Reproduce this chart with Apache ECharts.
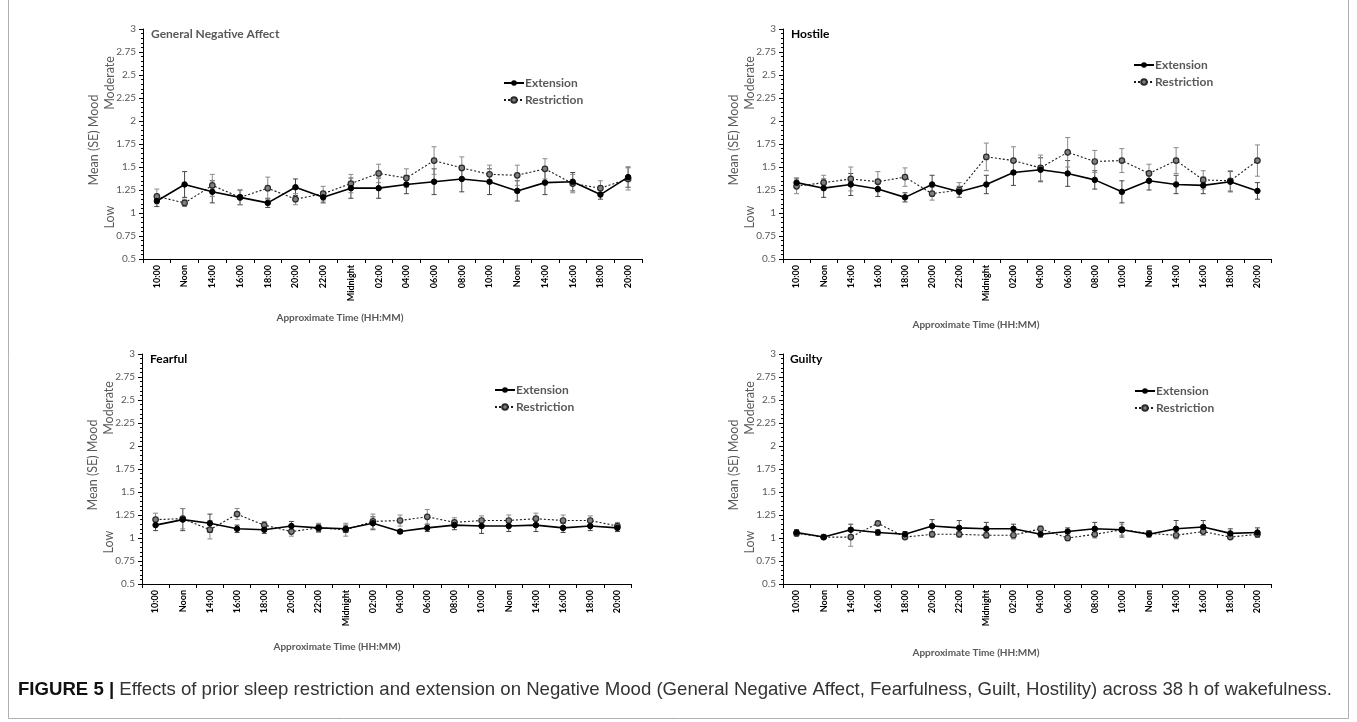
<!DOCTYPE html>
<html>
<head>
<meta charset="utf-8">
<script src="https://cdn.jsdelivr.net/npm/echarts@6/dist/echarts.min.js"></script>
<style>
html,body{margin:0;padding:0;background:#fff;}
#chart{width:1357px;height:722px;}
</style>
</head>
<body>
<div id="chart"></div>
<script>
// ---- data ----
const timeLabels = ['10:00','Noon','14:00','16:00','18:00','20:00','22:00','Midnight','02:00','04:00','06:00','08:00','10:00','Noon','14:00','16:00','18:00','20:00'];
const yTicks = [0.5, 0.75, 1, 1.25, 1.5, 1.75, 2, 2.25, 2.5, 2.75, 3];
const seriesNames = ['Extension', 'Restriction'];
const panelTitles = ['General Negative Affect', 'Hostile', 'Fearful', 'Guilty'];

const gnaExt    = [1.13,1.31,1.23,1.17,1.11,1.28,1.17,1.27,1.27,1.31,1.34,1.37,1.34,1.24,1.33,1.34,1.20,1.39];
const gnaExtSE  = [0.06,0.14,0.12,0.08,0.05,0.09,0.06,0.11,0.11,0.10,0.14,0.14,0.14,0.11,0.13,0.10,0.05,0.11];
const gnaRest   = [1.18,1.11,1.30,1.17,1.27,1.15,1.21,1.32,1.43,1.38,1.57,1.49,1.42,1.41,1.48,1.32,1.27,1.37];
const gnaRestSE = [0.08,0.04,0.12,0.08,0.12,0.06,0.08,0.10,0.10,0.10,0.15,0.12,0.10,0.11,0.11,0.10,0.08,0.12];

const hosExt    = [1.33,1.27,1.31,1.26,1.17,1.31,1.23,1.31,1.44,1.47,1.43,1.36,1.23,1.35,1.31,1.30,1.34,1.24];
const hosExtSE  = [0.05,0.10,0.12,0.08,0.05,0.10,0.06,0.10,0.14,0.13,0.14,0.10,0.12,0.10,0.10,0.09,0.11,0.09];
const hosRest   = [1.29,1.33,1.37,1.34,1.39,1.21,1.25,1.61,1.57,1.49,1.66,1.56,1.57,1.43,1.57,1.36,1.35,1.57];
const hosRestSE = [0.08,0.08,0.13,0.11,0.10,0.07,0.08,0.15,0.15,0.14,0.16,0.12,0.13,0.10,0.14,0.10,0.11,0.17];

const feaExt    = [1.14,1.20,1.16,1.10,1.09,1.13,1.11,1.10,1.16,1.07,1.11,1.14,1.13,1.13,1.14,1.11,1.13,1.11];
const feaExtSE  = [0.06,0.12,0.10,0.04,0.04,0.05,0.04,0.04,0.07,0.02,0.04,0.05,0.08,0.06,0.07,0.05,0.05,0.04];
const feaRest   = [1.20,1.21,1.09,1.26,1.14,1.07,1.11,1.09,1.18,1.19,1.23,1.17,1.19,1.19,1.21,1.19,1.19,1.13];
const feaRestSE = [0.07,0.11,0.10,0.06,0.04,0.05,0.05,0.07,0.08,0.06,0.08,0.05,0.05,0.06,0.06,0.06,0.05,0.04];

const guiExt    = [1.06,1.01,1.09,1.06,1.04,1.13,1.11,1.10,1.10,1.04,1.07,1.10,1.09,1.04,1.10,1.12,1.05,1.06];
const guiExtSE  = [0.03,0.01,0.06,0.03,0.03,0.07,0.08,0.07,0.05,0.03,0.04,0.07,0.08,0.03,0.09,0.07,0.05,0.05];
const guiRest   = [1.05,1.01,1.01,1.16,1.01,1.04,1.04,1.03,1.03,1.10,1.00,1.04,1.09,1.05,1.03,1.07,1.01,1.04];
const guiRestSE = [0.03,0.01,0.10,0.02,0.02,0.03,0.03,0.03,0.04,0.03,0.03,0.04,0.06,0.03,0.04,0.04,0.02,0.03];

// ---- layout ----
const FONT = 'Lato, "Open Sans", sans-serif';
const GRAY = '#595959';
const panels = [
  {grid:{left:143, top:29, width:499, height:230}, ext:gnaExt, extSE:gnaExtSE, rest:gnaRest, restSE:gnaRestSE,
   title:{x:151,y:36,color:GRAY}, legend:{left:503, top:76}, xName:{x:340,y:318}},
  {grid:{left:783, top:29, width:488, height:230}, ext:hosExt, extSE:hosExtSE, rest:hosRest, restSE:hosRestSE,
   title:{x:791,y:36,color:'#000'}, legend:{left:1133, top:58}, xName:{x:976,y:325}},
  {grid:{left:142, top:354, width:489, height:230}, ext:feaExt, extSE:feaExtSE, rest:feaRest, restSE:feaRestSE,
   title:{x:150,y:361,color:'#000'}, legend:{left:494, top:383}, xName:{x:337,y:647}},
  {grid:{left:783, top:354, width:488, height:230}, ext:guiExt, extSE:guiExtSE, rest:guiRest, restSE:guiRestSE,
   title:{x:790,y:361,color:'#000'}, legend:{left:1134, top:384}, xName:{x:976,y:653}}
];

function errSeries(i, mean, se, color) {
  return {
    type:'custom', xAxisIndex:i, yAxisIndex:i, silent:true, z:1,
    data: mean.map((m,k)=>[k, m - se[k], m + se[k]]),
    encode:{x:0, y:[1,2]},
    renderItem:(params, api)=>{
      const k = api.value(0);
      const lo = api.coord([k, api.value(1)]);
      const hi = api.coord([k, api.value(2)]);
      const w = 2.5;
      const st = {stroke:color, lineWidth:1};
      return {type:'group', children:[
        {type:'line', shape:{x1:lo[0],y1:lo[1],x2:hi[0],y2:hi[1]}, style:st},
        {type:'line', shape:{x1:hi[0]-w,y1:hi[1],x2:hi[0]+w,y2:hi[1]}, style:st},
        {type:'line', shape:{x1:lo[0]-w,y1:lo[1],x2:lo[0]+w,y2:lo[1]}, style:st}
      ]};
    }
  };
}

const grids=[], xAxes=[], yAxes=[], series=[], legends=[], graphics=[];
panels.forEach((p,i)=>{
  grids.push(p.grid);
  xAxes.push({
    type:'category', gridIndex:i, data:timeLabels, boundaryGap:true,
    axisLine:{lineStyle:{color:'#000', width:1}},
    axisTick:{show:true, length:4, lineStyle:{color:'#000'}},
    axisLabel:{rotate:90, margin:6, fontSize:9, fontWeight:'bold', color:'#000', fontFamily:FONT, interval:0},
    splitLine:{show:false}
  });
  yAxes.push({
    type:'value', gridIndex:i, min:yTicks[0], max:yTicks[yTicks.length-1], interval:0.25,
    axisLine:{show:true, lineStyle:{color:'#000', width:1}},
    axisTick:{show:true, length:4, lineStyle:{color:'#000'}},
    minorTick:{show:true, splitNumber:5, length:2, lineStyle:{color:'#000'}},
    axisLabel:{fontSize:10, color:GRAY, fontFamily:FONT, margin:7},
    splitLine:{show:false}
  });
  series.push(errSeries(i, p.ext, p.extSE, '#444'));
  series.push(errSeries(i, p.rest, p.restSE, '#8a8a8a'));
  series.push({
    name:seriesNames[0], type:'line', xAxisIndex:i, yAxisIndex:i, data:p.ext, z:3,
    symbol:'circle', symbolSize:5.5, showSymbol:true,
    lineStyle:{color:'#000', width:1.6, type:'solid'},
    itemStyle:{color:'#000', borderColor:'#000'}
  });
  series.push({
    name:seriesNames[1], type:'line', xAxisIndex:i, yAxisIndex:i, data:p.rest, z:2,
    symbol:'circle', symbolSize:5.5, showSymbol:true,
    lineStyle:{color:'#1a1a1a', width:1.1, type:[2,2]},
    itemStyle:{color:'#808080', borderColor:'#2a2a2a', borderWidth:1.2}
  });
  legends.push({
    data:seriesNames, orient:'vertical', left:p.legend.left, top:p.legend.top+1, padding:0,
    itemWidth:20, itemHeight:7, itemGap:5, selectedMode:false,
    textStyle:{fontSize:12, fontWeight:'bold', color:GRAY, fontFamily:FONT, padding:[0,0,0,-4]}
  });
  graphics.push({type:'text', left:p.title.x, top:p.title.y-8,
    style:{text:panelTitles[i], fontSize:12, fontWeight:'bold', fill:p.title.color, fontFamily:FONT}});
  const ax = p.grid.left, ty = p.grid.top;
  graphics.push({type:'text', x:ax-49, y:ty+111, rotation:Math.PI/2,
    style:{text:'Mean (SE) Mood', fontSize:12.5, fill:GRAY, fontFamily:FONT, align:'center', verticalAlign:'middle'}});
  graphics.push({type:'text', x:ax-33, y:ty+54, rotation:Math.PI/2,
    style:{text:'Moderate', fontSize:12.5, fill:GRAY, fontFamily:FONT, align:'center', verticalAlign:'middle'}});
  graphics.push({type:'text', x:ax-33, y:ty+188, rotation:Math.PI/2,
    style:{text:'Low', fontSize:12.5, fill:GRAY, fontFamily:FONT, align:'center', verticalAlign:'middle'}});
  graphics.push({type:'text', x:p.xName.x, y:p.xName.y,
    style:{text:'Approximate Time (HH:MM)', fontSize:10, fontWeight:'bold', fill:GRAY, fontFamily:FONT, align:'center', verticalAlign:'middle'}});
});

graphics.push({type:'rect', shape:{x:8.5, y:-1, width:1340, height:719.5},
  style:{fill:'none', stroke:'#b0b0b0', lineWidth:1}, silent:true});
graphics.push({type:'text', x:18, y:690,
  style:{
    text:'{b|FIGURE 5 |} Effects of prior sleep restriction and extension on Negative Mood (General Negative Affect, Fearfulness, Guilt, Hostility) across 38 h of wakefulness.',
    verticalAlign:'middle', fontSize:18.6, fill:'#333', fontFamily:'"Liberation Sans", Arial, sans-serif',
    rich:{b:{fontSize:18.6, fontWeight:'bold', fill:'#111', fontFamily:'"Liberation Sans", Arial, sans-serif'}}
  }});

const chart = echarts.init(document.getElementById('chart'), null, {renderer:'canvas'});
chart.setOption({
  animation:false,
  backgroundColor:'#fff',
  grid:grids, xAxis:xAxes, yAxis:yAxes, series:series, legend:legends, graphic:graphics
});
</script>
</body>
</html>
